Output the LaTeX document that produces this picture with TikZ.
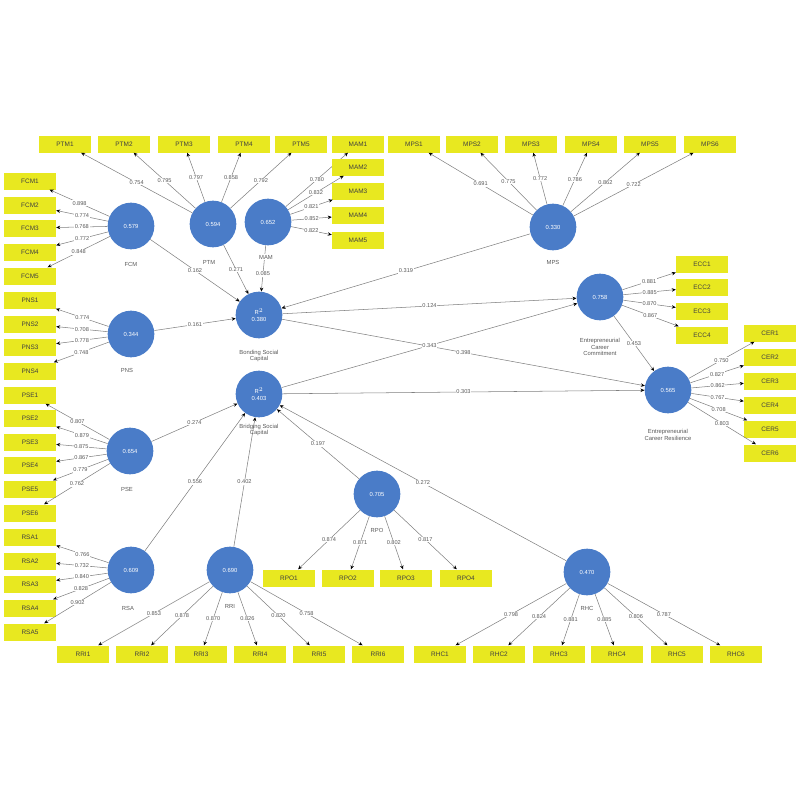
\documentclass[tikz,border=0pt]{standalone}
\usepackage{fontspec}
\setmainfont{Liberation Sans}
\usetikzlibrary{arrows.meta}
\definecolor{yel}{HTML}{E8E820}
\definecolor{blu}{HTML}{4A7CC8}
\begin{document}
\begin{tikzpicture}[x=0.03cm,y=-0.03cm,
 ind/.style={rectangle,fill=yel,minimum width=1.56cm,minimum height=0.51cm,inner sep=0pt,font=\fontsize{5.5}{6}\selectfont,text=black!75},
 lat/.style={circle,fill=blu,minimum size=1.4cm,inner sep=0pt,text=white,font=\fontsize{5}{5.5}\selectfont,align=center},
 con/.style={draw=black!50,line width=0.45pt,-{Stealth[length=3.4pt,width=3pt,black]}},
 lbl/.style={fill=white,inner sep=0.6pt,font=\fontsize{4.8}{5}\selectfont,text=black!65},
 nm/.style={font=\fontsize{5}{5.6}\selectfont,text=black!65,align=center,inner sep=0.6pt}]
\useasboundingbox (0,0) rectangle (800,800);

% latent variables
\node[lat] (FCM) at (131,226) {0.579};
\node[lat] (PTM) at (213,224) {0.594};
\node[lat] (MAM) at (268,222) {0.652};
\node[lat] (MPS) at (553,227) {0.330};
\node[lat] (BON) at (259,315) {R$^2$\\0.380};
\node[lat] (PNS) at (131,334) {0.344};
\node[lat] (BRI) at (259,394) {R$^2$\\0.403};
\node[lat] (PSE) at (130,451) {0.654};
\node[lat] (RSA) at (131,570) {0.609};
\node[lat] (RRI) at (230,570) {0.690};
\node[lat] (RPO) at (377,494) {0.705};
\node[lat] (RHC) at (587,572) {0.470};
\node[lat] (ECC) at (600,297) {0.758};
\node[lat] (ECR) at (668,390) {0.565};

% indicators
\foreach \i/\x/\v in {1/65/0.754,2/124/0.795,3/184/0.797,4/244/0.858,5/301/0.792}{
  \node[ind] (PTM\i) at (\x,144) {PTM\i};
  \draw[con] (PTM) -- node[lbl]{\v} (PTM\i);}
\foreach \i/\y/\v in {1/144/0.780,2/167/0.832,3/191/0.821,4/215/0.852,5/240/0.822}{
  \node[ind] (MAM\i) at (358,\y) {MAM\i};
  \draw[con] (MAM) -- node[lbl]{\v} (MAM\i);}
\foreach \i/\x/\v in {1/414/0.691,2/472/0.775,3/531/0.772,4/591/0.786,5/650/0.862,6/710/0.722}{
  \node[ind] (MPS\i) at (\x,144) {MPS\i};
  \draw[con] (MPS) -- node[lbl]{\v} (MPS\i);}
\foreach \i/\y/\v in {1/181/0.898,2/205/0.774,3/228/0.768,4/252/0.772,5/276/0.848}{
  \node[ind] (FCM\i) at (30,\y) {FCM\i};
  \draw[con] (FCM) -- node[lbl]{\v} (FCM\i);}
\foreach \i/\y/\v in {1/300/0.774,2/324/0.708,3/347/0.778,4/371/0.748}{
  \node[ind] (PNS\i) at (30,\y) {PNS\i};
  \draw[con] (PNS) -- node[lbl]{\v} (PNS\i);}
\foreach \i/\y/\v in {1/395/0.807,2/418/0.879,3/442/0.875,4/465/0.867,5/489/0.779,6/513/0.762}{
  \node[ind] (PSE\i) at (30,\y) {PSE\i};
  \draw[con] (PSE) -- node[lbl]{\v} (PSE\i);}
\foreach \i/\y/\v in {1/537/0.766,2/561/0.732,3/584/0.840,4/608/0.828,5/632/0.902}{
  \node[ind] (RSA\i) at (30,\y) {RSA\i};
  \draw[con] (RSA) -- node[lbl]{\v} (RSA\i);}
\foreach \i/\x/\v in {1/83/0.853,2/142/0.878,3/201/0.870,4/260/0.826,5/319/0.820,6/378/0.758}{
  \node[ind] (RRI\i) at (\x,654) {RRI\i};
  \draw[con] (RRI) -- node[lbl]{\v} (RRI\i);}
\foreach \i/\x/\v in {1/289/0.874,2/348/0.871,3/406/0.802,4/466/0.817}{
  \node[ind] (RPO\i) at (\x,578) {RPO\i};
  \draw[con] (RPO) -- node[lbl]{\v} (RPO\i);}
\foreach \i/\x/\v in {1/440/0.798,2/499/0.824,3/559/0.881,4/617/0.885,5/677/0.806,6/736/0.787}{
  \node[ind] (RHC\i) at (\x,654) {RHC\i};
  \draw[con] (RHC) -- node[lbl]{\v} (RHC\i);}
\foreach \i/\y/\v in {1/264/0.881,2/287/0.885,3/311/0.870,4/335/0.867}{
  \node[ind] (ECC\i) at (702,\y) {ECC\i};
  \draw[con] (ECC) -- node[lbl]{\v} (ECC\i);}
\foreach \i/\y/\v in {1/333/0.750,2/357/0.827,3/381/0.862,4/405/0.767,5/429/0.708,6/453/0.803}{
  \node[ind] (ECR\i) at (770,\y) {CER\i};
  \draw[con] (ECR) -- node[lbl]{\v} (ECR\i);}

% structural paths
\draw[con] (FCM) -- node[lbl]{0.162} (BON);
\draw[con] (PTM) -- node[lbl]{0.271} (BON);
\draw[con] (MAM) -- node[lbl,pos=0.62]{0.085} (BON);
\draw[con] (MPS) -- node[lbl]{0.319} (BON);
\draw[con] (PNS) -- node[lbl]{0.161} (BON);
\draw[con] (BON) -- node[lbl]{0.124} (ECC);
\draw[con] (BON) -- node[lbl]{0.398} (ECR);
\draw[con] (BRI) -- node[lbl]{0.343} (ECC);
\draw[con] (BRI) -- node[lbl]{0.303} (ECR);
\draw[con] (PSE) -- node[lbl]{0.274} (BRI);
\draw[con] (RSA) -- node[lbl]{0.556} (BRI);
\draw[con] (RRI) -- node[lbl]{0.402} (BRI);
\draw[con] (RPO) -- node[lbl]{0.197} (BRI);
\draw[con] (RHC) -- node[lbl]{0.272} (BRI);
\draw[con] (ECC) -- node[lbl]{0.453} (ECR);

% latent names
\node[nm] (nFCM) at (131,264) {FCM};
\node[nm] (nPTM) at (209,262) {PTM};
\node[nm,fill=white] (nMAM) at (266,257) {MAM};
\node[nm] (nMPS) at (553,262) {MPS};
\node[nm] (nBON) at (259,356) {Bonding Social\\Capital};
\node[nm] (nPNS) at (127,370) {PNS};
\node[nm] (nBRI) at (259,430) {Bridging Social\\Capital};
\node[nm] (nPSE) at (127,489) {PSE};
\node[nm] (nRSA) at (128,608) {RSA};
\node[nm,fill=white] (nRRI) at (230,606) {RRI};
\node[nm,fill=white] (nRPO) at (377,530) {RPO};
\node[nm,fill=white] (nRHC) at (587,608) {RHC};
\node[nm] (nECC) at (600,347) {Entrepreneurial\\Career\\Commitment};
\node[nm] (nECR) at (668,435) {Entrepreneurial\\Career Resilience};
\end{tikzpicture}
\end{document}
